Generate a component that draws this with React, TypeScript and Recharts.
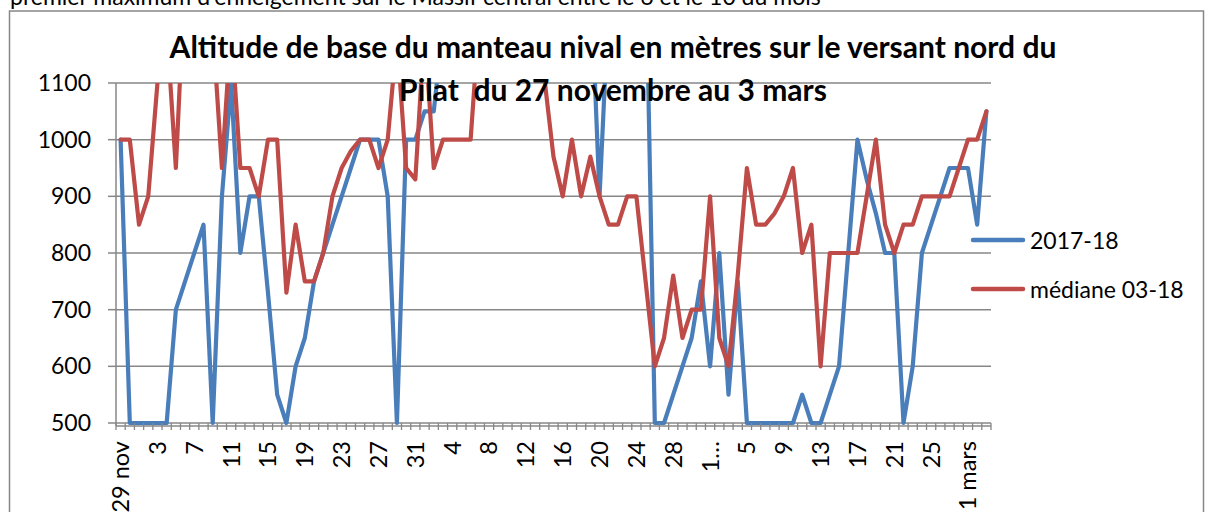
import { LineChart, Line, XAxis, YAxis, CartesianGrid } from "recharts"

// one category per day, 29 nov -> 3 mars
const days = [
  "29 nov", "30",
  "1 déc", "2", "3", "4", "5", "6", "7", "8", "9", "10", "11", "12", "13", "14", "15", "16",
  "17", "18", "19", "20", "21", "22", "23", "24", "25", "26", "27", "28", "29", "30", "31",
  "1 janv", "2", "3", "4", "5", "6", "7", "8", "9", "10", "11", "12", "13", "14", "15", "16",
  "17", "18", "19", "20", "21", "22", "23", "24", "25", "26", "27", "28", "29", "30", "31",
  "1 févr", "2", "3", "4", "5", "6", "7", "8", "9", "10", "11", "12", "13", "14", "15", "16",
  "17", "18", "19", "20", "21", "22", "23", "24", "25", "26", "27", "28",
  "1 mars", "2", "3",
]

// Excel cut this one short
const shownAs: Record<string, string> = { "1 févr": "1…" }
const labelStep = 4

const season1718 = [
  1000, 500, 500, 500, 500, 500, 700, 750, 800, 850,
  500, 900, 1100, 800, 900, 900, 730, 550, 500, 600,
  650, 750, 800, 850, 900, 950, 1000, 1000, 1000, 900,
  500, 1000, 1000, 1050, 1050, 1200, 1250, 1300, 1300, 1300,
  1300, 1300, 1300, 1300, 1300, 1300, 1300, 1300, 1300, 1300,
  1300, 1300, 900, 1250, 1300, 1300, 1300, 1340, 500, 500,
  550, 600, 650, 750, 600, 800, 550, 750, 500, 500,
  500, 500, 500, 500, 550, 500, 500, 550, 600, 800,
  1000, 930, 870, 800, 800, 500, 600, 800, 850, 900,
  950, 950, 950, 850, 1050,
]

const median0318 = [
  1000, 1000, 850, 900, 1100, 1200, 950, 1300, 1300, 1300,
  1200, 950, 1200, 950, 950, 900, 1000, 1000, 730, 850,
  750, 750, 800, 900, 950, 980, 1000, 1000, 950, 1000,
  1180, 950, 930, 1200, 950, 1000, 1000, 1000, 1000, 1230,
  1250, 1250, 1250, 1250, 1250, 1250, 1110, 970, 900, 1000,
  900, 970, 900, 850, 850, 900, 900, 750, 600, 650,
  760, 650, 700, 700, 900, 650, 600, 760, 950, 850,
  850, 870, 900, 950, 800, 850, 600, 800, 800, 800,
  800, 900, 1000, 850, 800, 850, 850, 900, 900, 900,
  900, 950, 1000, 1000, 1050,
]

const yTicks = [500, 600, 700, 800, 900, 1000, 1100]

const seriesNames = ["2017-18", "médiane 03-18"]
const colors = ["#4a7ebb", "#be4b48"]

const title = [
  "Altitude de base du manteau nival en mètres sur le versant nord du",
  "Pilat  du 27 novembre au 3 mars",
]
const caption = "premier maximum d'enneigement sur le Massif central entre le 6 et le 10 du mois"

// day labels repeat across months, so key the axis on the position
const data = days.map((day, i) => ({
  idx: i,
  day,
  s1718: season1718[i],
  med: median0318[i],
}))

const W = 1208
const H = 512
const plotLeft = 116
const plotRight = 991
const plotTop = 83
const axisY = 423
const plotBottom = 426 // a bit below 500 so flat segments at 500 aren't clipped
const gray = "#878787"
const font = "Lato, 'Open Sans', sans-serif"

// domain min so that 500 sits on axisY
const yMin = 500 - ((plotBottom - axisY) * 600) / (axisY - plotTop)

function DayTick(props: any) {
  const { x, payload } = props
  const i = Number(payload.value)
  const bw = (plotRight - plotLeft) / days.length
  const ly = axisY + 18
  const label = days[i]
  return (
    <g>
      <line x1={x - bw / 2} x2={x - bw / 2} y1={axisY} y2={axisY + 7} stroke={gray} strokeWidth={1.3} />
      {i === days.length - 1 && (
        <line x1={x + bw / 2} x2={x + bw / 2} y1={axisY} y2={axisY + 7} stroke={gray} strokeWidth={1.3} />
      )}
      {i % labelStep === 0 && (
        <text
          x={x}
          y={ly}
          dy="0.36em"
          textAnchor="end"
          transform={`rotate(-90 ${x} ${ly})`}
          fill="#000"
          fontSize={23.5}
          fontFamily={font}
        >
          {shownAs[label] ?? label}
        </text>
      )}
    </g>
  )
}

export default function App() {
  return (
    <div style={{ position: "absolute", left: 0, top: 0, width: W, height: H, overflow: "hidden", background: "#fff" }}>
      <LineChart
        width={W}
        height={H}
        data={data}
        margin={{ top: plotTop, right: W - plotRight, bottom: 0, left: 0 }}
      >
        <CartesianGrid vertical={false} stroke={gray} strokeWidth={1.5} />
        <XAxis
          dataKey="idx"
          type="category"
          scale="band"
          interval={0}
          height={H - plotBottom}
          axisLine={false}
          tickLine={false}
          tick={<DayTick />}
        />
        <YAxis
          width={plotLeft}
          domain={[yMin, 1100]}
          ticks={yTicks}
          allowDataOverflow
          tickSize={8}
          tickMargin={17}
          axisLine={{ stroke: gray, strokeWidth: 1.5 }}
          tickLine={{ stroke: gray, strokeWidth: 1.5 }}
          tick={{ fill: "#000", fontSize: 23, fontFamily: font }}
        />
        <Line
          dataKey="s1718"
          name={seriesNames[0]}
          stroke={colors[0]}
          strokeWidth={4.2}
          dot={false}
          strokeLinejoin="round"
          strokeLinecap="round"
          isAnimationActive={false}
        />
        <Line
          dataKey="med"
          name={seriesNames[1]}
          stroke={colors[1]}
          strokeWidth={4.2}
          dot={false}
          strokeLinejoin="round"
          strokeLinecap="round"
          isAnimationActive={false}
        />
      </LineChart>

      <svg width={W} height={H} style={{ position: "absolute", left: 0, top: 0, pointerEvents: "none" }}>
        <text x={10} y={5} fontSize={23} fontFamily={font} fill="#000">
          {caption}
        </text>
        <rect x={9.5} y={11} width={1194} height={620} fill="none" stroke={gray} strokeWidth={1.5} />
        {title.map((t, i) => (
          <text
            key={i}
            x={613}
            y={58 + i * 43}
            textAnchor="middle"
            fontSize={30}
            fontWeight={700}
            fontFamily={font}
            fill="#000"
            style={{ whiteSpace: "pre" }}
          >
            {t}
          </text>
        ))}
      </svg>

      <div style={{ position: "absolute", left: 968, top: 215, fontFamily: font, fontSize: 23, color: "#000" }}>
        {seriesNames.map((n, i) => (
          <div key={n} style={{ display: "flex", alignItems: "center", height: 49 }}>
            <svg width={60} height={10} style={{ marginRight: 2 }}>
              <line x1={5} x2={55} y1={5} y2={5} stroke={colors[i]} strokeWidth={4.5} strokeLinecap="round" />
            </svg>
            <span>{n}</span>
          </div>
        ))}
      </div>
    </div>
  )
}
